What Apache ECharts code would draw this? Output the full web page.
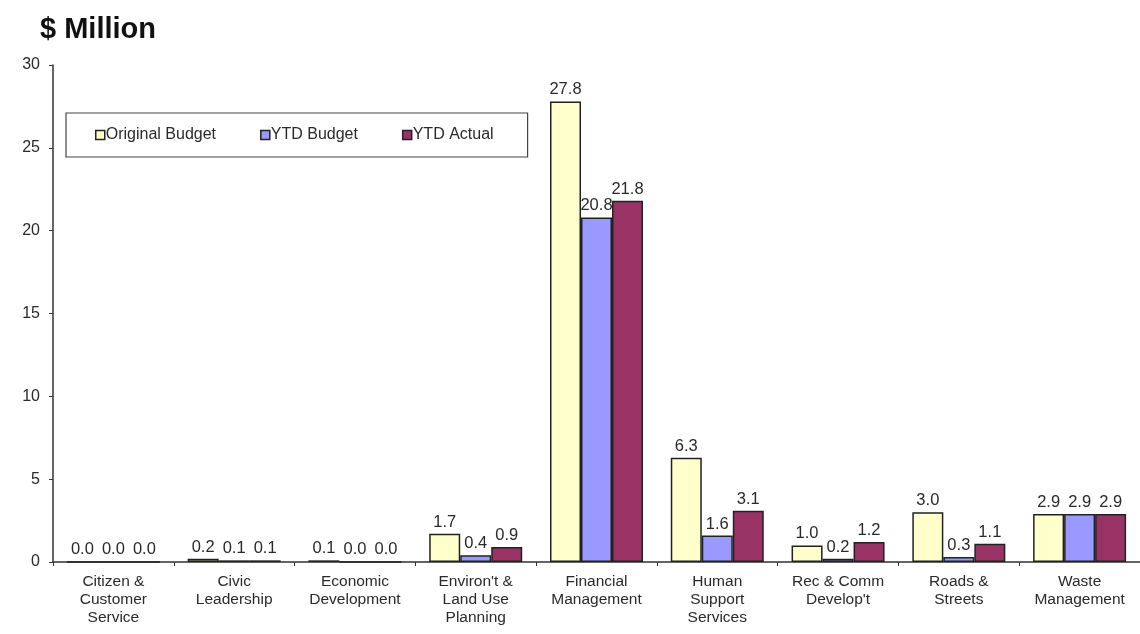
<!DOCTYPE html>
<html>
<head>
<meta charset="utf-8">
<script src="https://cdn.jsdelivr.net/npm/echarts@6/dist/echarts.min.js"></script>
<style>
  html, body { margin: 0; padding: 0; background: #fff; }
  #chart { width: 1140px; height: 634px; }
</style>
</head>
<body>
<div id="chart"></div>
<script>
// categories
const categories = [
  "Citizen &\nCustomer\nService",
  "Civic\nLeadership",
  "Economic\nDevelopment",
  "Environ't &\nLand Use\nPlanning",
  "Financial\nManagement",
  "Human\nSupport\nServices",
  "Rec & Comm\nDevelop't",
  "Roads &\nStreets",
  "Waste\nManagement"
];

// series values ($ Million)
const originalBudget = [0.0, 0.2, 0.1, 1.7, 27.8, 6.3, 1.0, 3.0, 2.9];
const ytdBudget = [0.0, 0.1, 0.0, 0.4, 20.8, 1.6, 0.2, 0.3, 2.9];
const ytdActual = [0.0, 0.1, 0.0, 0.9, 21.8, 3.1, 1.2, 1.1, 2.9];

const font = "Liberation Sans, Arial, sans-serif";

const chart = echarts.init(document.getElementById("chart"));

// 数值标签
const label = {
  show: true,
  position: "top",
  distance: 3,
  color: "#2a2a2a",
  fontSize: 16.5,
  fontFamily: font,
  formatter: (p) => p.value.toFixed(1)
};

const option = {
  animation: false,
  backgroundColor: "#fff",
  title: {
    text: "$ Million",
    left: 35,
    top: 10,
    textStyle: { fontSize: 29, fontWeight: "bold", color: "#111", fontFamily: font }
  },
  legend: {
    data: ["Original Budget", "YTD Budget", "YTD Actual"],
    left: 66,
    top: 113,
    padding: [14, 34, 14, 29],
    itemGap: 44,
    itemWidth: 9,
    itemHeight: 9,
    itemStyle: { borderColor: "#222", borderWidth: 1.5 },
    borderColor: "#444",
    borderWidth: 1.2,
    icon: "rect",
    textStyle: { fontSize: 16, color: "#2a2a2a", fontFamily: font, padding: [0, 0, 0, -4] }
  },
  grid: {
    left: 53,
    right: -5,
    top: 65,
    bottom: 72
  },
  xAxis: {
    type: "category",
    data: categories,
    axisLine: { lineStyle: { color: "#333", width: 1.5 } },
    axisTick: { show: true, length: 4, lineStyle: { color: "#333" } },
    axisLabel: {
      interval: 0,
      color: "#2a2a2a",
      fontSize: 15.5,
      fontFamily: font,
      lineHeight: 18,
      margin: 11
    }
  },
  yAxis: {
    type: "value",
    min: 0,
    max: 30,
    interval: 5,
    axisLine: { show: true, lineStyle: { color: "#333", width: 1.5 } },
    axisTick: { show: true, length: 4, lineStyle: { color: "#333" } },
    splitLine: { show: false },
    axisLabel: { color: "#2a2a2a", fontSize: 16, fontFamily: font, margin: 13 }
  },
  series: [
    {
      name: "Original Budget",
      type: "bar",
      data: originalBudget,
      barGap: "0%",
      barCategoryGap: "23%",
      itemStyle: { color: "#ffffcc", borderColor: "#222", borderWidth: 1.5 },
      label: label
    },
    {
      name: "YTD Budget",
      type: "bar",
      data: ytdBudget,
      itemStyle: { color: "#9999ff", borderColor: "#222", borderWidth: 1.5 },
      label: label
    },
    {
      name: "YTD Actual",
      type: "bar",
      data: ytdActual,
      itemStyle: { color: "#993366", borderColor: "#222", borderWidth: 1.5 },
      label: label
    }
  ]
};

chart.setOption(option);
</script>
</body>
</html>
